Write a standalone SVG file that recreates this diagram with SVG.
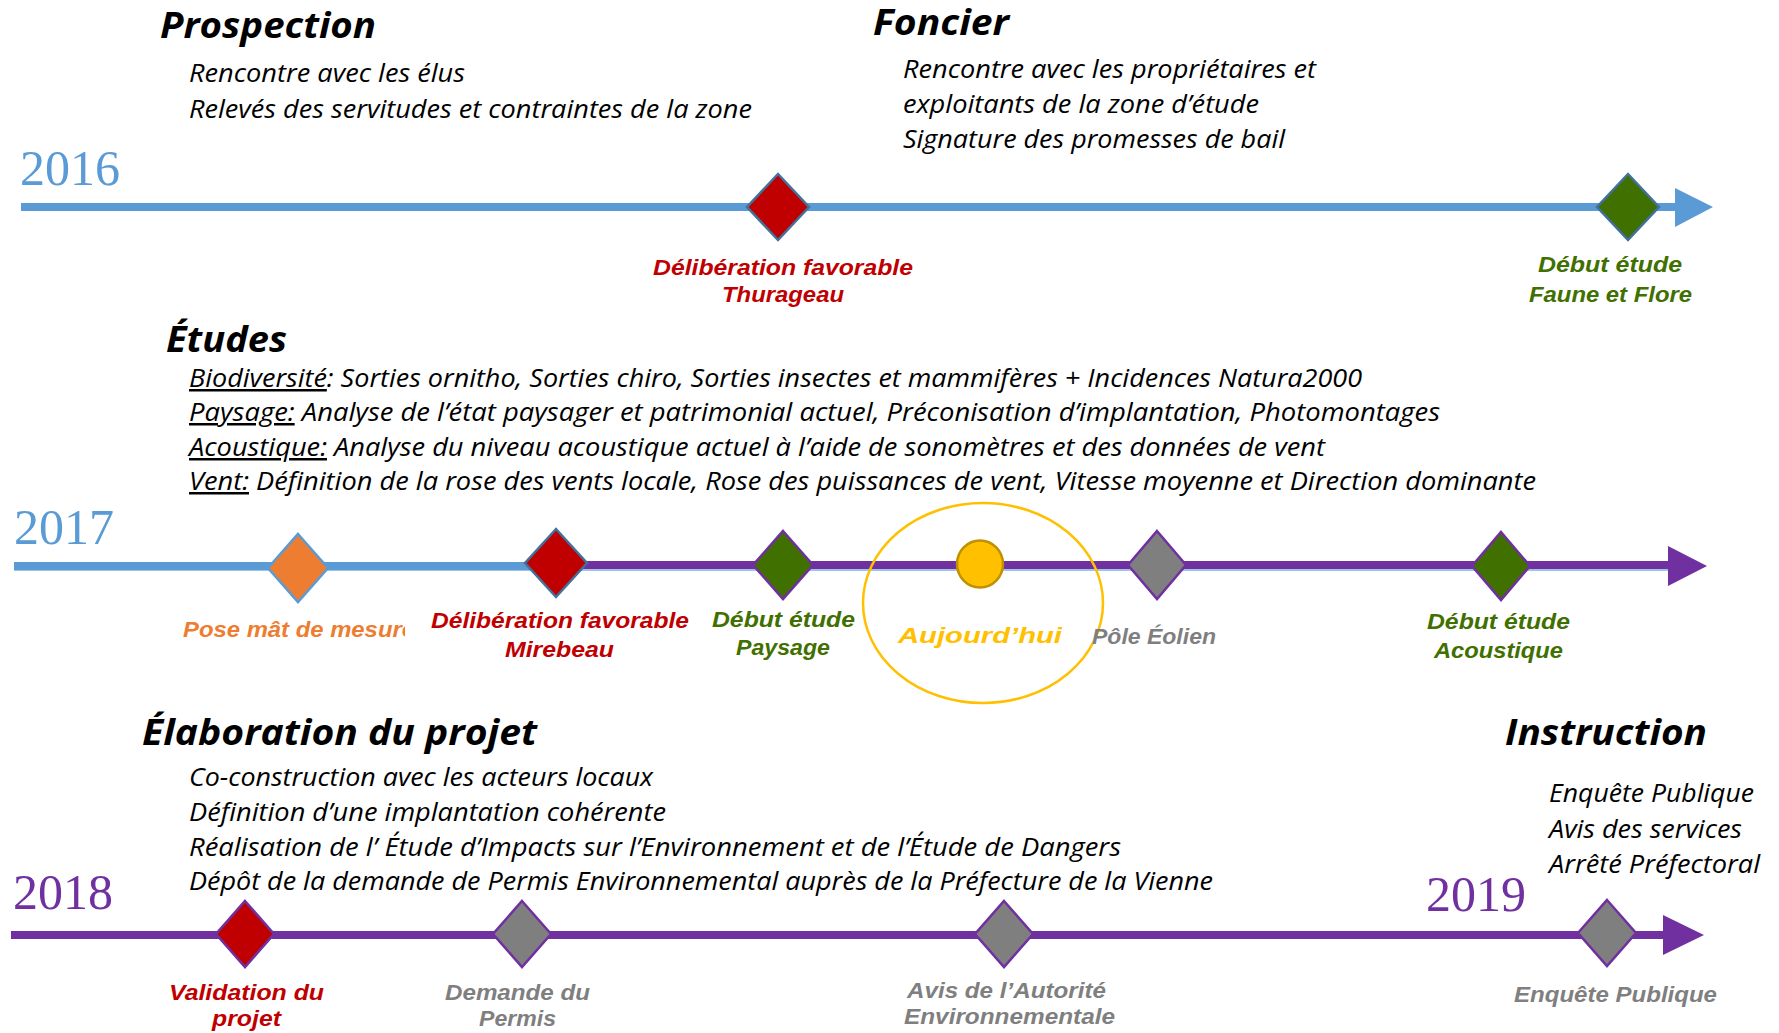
<svg xmlns="http://www.w3.org/2000/svg" width="1779" height="1033" viewBox="0 0 1779 1033">
<style>
text{font-family:"Open Sans","Liberation Sans",sans-serif;font-style:italic}
.h{font-weight:700;font-size:36px;fill:#000}
.b{font-weight:400;font-size:25px;fill:#000}
.l{font-family:"Liberation Sans",Arial,sans-serif;font-weight:700;font-size:22px}
.yr{font-family:"Liberation Serif","Times New Roman",serif;font-style:normal;font-size:50px}
.blue{fill:#5B9BD5}.purp{fill:#7030A0}
.red{fill:#C00000}.grn{fill:#3F7000}.gry{fill:#7F7F7F}.org{fill:#ED7D31}.yel{fill:#FFC000}
.u{text-decoration:underline}
.dm{stroke-width:2.5;stroke-linejoin:miter}
</style>
<defs>
<clipPath id="clipPose"><rect x="150" y="600" width="255" height="60"/></clipPath>
</defs>
<rect width="1779" height="1033" fill="#fff"/>

<g id="connectors">
  <line x1="21" y1="207" x2="1677" y2="207" stroke="#5B9BD5" stroke-width="8"/>
  <polygon points="1675,188 1713,207 1675,227" fill="#5B9BD5"/>
  <line x1="14" y1="567" x2="1670" y2="567" stroke="#9DC3E6" stroke-width="8"/>
  <line x1="14" y1="566" x2="560" y2="566" stroke="#5B9BD5" stroke-width="8"/>
  <line x1="556" y1="565" x2="1670" y2="565" stroke="#7030A0" stroke-width="8"/>
  <polygon points="1668,546 1707,566 1668,586" fill="#7030A0"/>
  <line x1="11" y1="935" x2="1665" y2="935" stroke="#7030A0" stroke-width="8"/>
  <polygon points="1663,915 1704,935 1663,955" fill="#7030A0"/>
</g>

<g id="prospection">
  <text class="h" x="160" y="38" textLength="216" lengthAdjust="spacingAndGlyphs">Prospection</text>
  <text class="b" x="189" y="82" textLength="276" lengthAdjust="spacingAndGlyphs">Rencontre avec les élus</text>
  <text class="b" x="189" y="118" textLength="563" lengthAdjust="spacingAndGlyphs">Relevés des servitudes et contraintes de la zone</text>
</g>
<g id="foncier">
  <text class="h" x="873" y="35" textLength="136" lengthAdjust="spacingAndGlyphs">Foncier</text>
  <text class="b" x="903" y="78" textLength="413" lengthAdjust="spacingAndGlyphs">Rencontre avec les propriétaires et</text>
  <text class="b" x="903" y="113" textLength="356" lengthAdjust="spacingAndGlyphs">exploitants de la zone d’étude</text>
  <text class="b" x="903" y="148" textLength="382" lengthAdjust="spacingAndGlyphs">Signature des promesses de bail</text>
</g>
<g id="year-2016"><text class="yr blue" x="20" y="185">2016</text></g>
<g id="m-thurageau">
  <polygon class="dm" points="778,174 809,207 778,240 747,207" fill="#C00000" stroke="#41719C"/>
  <text class="l red" x="653" y="275" textLength="260" lengthAdjust="spacingAndGlyphs">Délibération favorable</text>
  <text class="l red" x="722" y="302" textLength="122" lengthAdjust="spacingAndGlyphs">Thurageau</text>
</g>
<g id="m-faune">
  <polygon class="dm" points="1628,174 1659,207 1628,240 1597,207" fill="#3F7000" stroke="#41719C"/>
  <text class="l grn" x="1538" y="272" textLength="144" lengthAdjust="spacingAndGlyphs">Début étude</text>
  <text class="l grn" x="1529" y="302" textLength="163" lengthAdjust="spacingAndGlyphs">Faune et Flore</text>
</g>

<g id="etudes">
  <text x="166" y="352" font-family="'Liberation Sans',Arial,sans-serif" font-weight="700" font-size="35" fill="#000" textLength="121" lengthAdjust="spacingAndGlyphs">Études</text>
  <text class="b" x="189" y="387" textLength="1173" lengthAdjust="spacingAndGlyphs"><tspan class="u">Biodiversité</tspan>: Sorties ornitho, Sorties chiro, Sorties insectes et mammifères + Incidences Natura2000</text>
  <text class="b" x="189" y="421" textLength="1251" lengthAdjust="spacingAndGlyphs"><tspan class="u">Paysage:</tspan> Analyse de l’état paysager et patrimonial actuel, Préconisation d’implantation, Photomontages</text>
  <text class="b" x="189" y="456" textLength="1136" lengthAdjust="spacingAndGlyphs"><tspan class="u">Acoustique:</tspan> Analyse du niveau acoustique actuel à l’aide de sonomètres et des données de vent</text>
  <text class="b" x="189" y="490" textLength="1347" lengthAdjust="spacingAndGlyphs"><tspan class="u">Vent:</tspan> Définition de la rose des vents locale, Rose des puissances de vent, Vitesse moyenne et Direction dominante</text>
</g>
<g id="year-2017"><text class="yr blue" x="14" y="544">2017</text></g>
<g id="m-mat">
  <polygon class="dm" points="298,534 328,568 298,602 268,568" fill="#ED7D31" stroke="#5B9BD5"/>
  <text class="l org" x="183" y="637" textLength="232" lengthAdjust="spacingAndGlyphs" clip-path="url(#clipPose)">Pose mât de mesure</text>
</g>
<g id="m-mirebeau">
  <polygon class="dm" points="556,529 587,563 556,597 525,563" fill="#C00000" stroke="#41719C"/>
  <text class="l red" x="431" y="628" textLength="258" lengthAdjust="spacingAndGlyphs">Délibération favorable</text>
  <text class="l red" x="505" y="657" textLength="109" lengthAdjust="spacingAndGlyphs">Mirebeau</text>
</g>
<g id="m-paysage">
  <polygon class="dm" points="783,531 813,565 783,599 753,565" fill="#3F7000" stroke="#7030A0"/>
  <text class="l grn" x="712" y="627" textLength="143" lengthAdjust="spacingAndGlyphs">Début étude</text>
  <text class="l grn" x="736" y="655" textLength="94" lengthAdjust="spacingAndGlyphs">Paysage</text>
</g>
<g id="m-aujourdhui">
  <ellipse cx="983" cy="603" rx="120" ry="100" fill="none" stroke="#FFC000" stroke-width="2.5"/>
  <ellipse cx="980" cy="564" rx="23" ry="23.5" fill="#FFC000" stroke="#BF9000" stroke-width="2.5"/>
  <text class="l yel" x="898" y="643" font-size="27" textLength="164" lengthAdjust="spacingAndGlyphs">Aujourd’hui</text>
</g>
<g id="m-pole">
  <polygon class="dm" points="1157,531 1186,565 1157,599 1128,565" fill="#7F7F7F" stroke="#7030A0"/>
  <text class="l gry" x="1092" y="644" textLength="124" lengthAdjust="spacingAndGlyphs">Pôle Éolien</text>
</g>
<g id="m-acoustique">
  <polygon class="dm" points="1501,532 1530,566 1501,600 1472,566" fill="#3F7000" stroke="#7030A0"/>
  <text class="l grn" x="1427" y="629" textLength="143" lengthAdjust="spacingAndGlyphs">Début étude</text>
  <text class="l grn" x="1434" y="658" textLength="129" lengthAdjust="spacingAndGlyphs">Acoustique</text>
</g>

<g id="elaboration">
  <text class="h" x="142" y="745" textLength="395" lengthAdjust="spacingAndGlyphs">Élaboration du projet</text>
  <text class="b" x="189" y="786" textLength="464" lengthAdjust="spacingAndGlyphs">Co-construction avec les acteurs locaux</text>
  <text class="b" x="189" y="821" textLength="477" lengthAdjust="spacingAndGlyphs">Définition d’une implantation cohérente</text>
  <text class="b" x="189" y="856" textLength="932" lengthAdjust="spacingAndGlyphs">Réalisation de l’ Étude d’Impacts sur l’Environnement et de l’Étude de Dangers</text>
  <text class="b" x="189" y="890" textLength="1024" lengthAdjust="spacingAndGlyphs">Dépôt de la demande de Permis Environnemental auprès de la Préfecture de la Vienne</text>
</g>
<g id="instruction">
  <text class="h" x="1505" y="745" textLength="202" lengthAdjust="spacingAndGlyphs">Instruction</text>
  <text class="b" x="1549" y="802" textLength="205" lengthAdjust="spacingAndGlyphs">Enquête Publique</text>
  <text class="b" x="1549" y="838" textLength="193" lengthAdjust="spacingAndGlyphs">Avis des services</text>
  <text class="b" x="1549" y="873" textLength="211" lengthAdjust="spacingAndGlyphs">Arrêté Préfectoral</text>
</g>
<g id="year-2018"><text class="yr purp" x="13" y="909">2018</text></g>
<g id="year-2019"><text class="yr purp" x="1426" y="911">2019</text></g>
<g id="m-validation">
  <polygon class="dm" points="245,901 274,934 245,967 216,934" fill="#C00000" stroke="#7030A0"/>
  <text class="l red" x="169" y="1000" textLength="155" lengthAdjust="spacingAndGlyphs">Validation du</text>
  <text class="l red" x="212" y="1026" textLength="69" lengthAdjust="spacingAndGlyphs">projet</text>
</g>
<g id="m-permis">
  <polygon class="dm" points="522,901 551,934 522,967 493,934" fill="#7F7F7F" stroke="#7030A0"/>
  <text class="l gry" x="445" y="1000" textLength="145" lengthAdjust="spacingAndGlyphs">Demande du</text>
  <text class="l gry" x="479" y="1026" textLength="77" lengthAdjust="spacingAndGlyphs">Permis</text>
</g>
<g id="m-autorite">
  <polygon class="dm" points="1004,901 1033,934 1004,967 975,934" fill="#7F7F7F" stroke="#7030A0"/>
  <text class="l gry" x="907" y="998" textLength="199" lengthAdjust="spacingAndGlyphs">Avis de l’Autorité</text>
  <text class="l gry" x="904" y="1024" textLength="211" lengthAdjust="spacingAndGlyphs">Environnementale</text>
</g>
<g id="m-enquete">
  <polygon class="dm" points="1607,900 1636,933 1607,966 1578,933" fill="#7F7F7F" stroke="#7030A0"/>
  <text class="l gry" x="1514" y="1002" textLength="203" lengthAdjust="spacingAndGlyphs">Enquête Publique</text>
</g>
</svg>
